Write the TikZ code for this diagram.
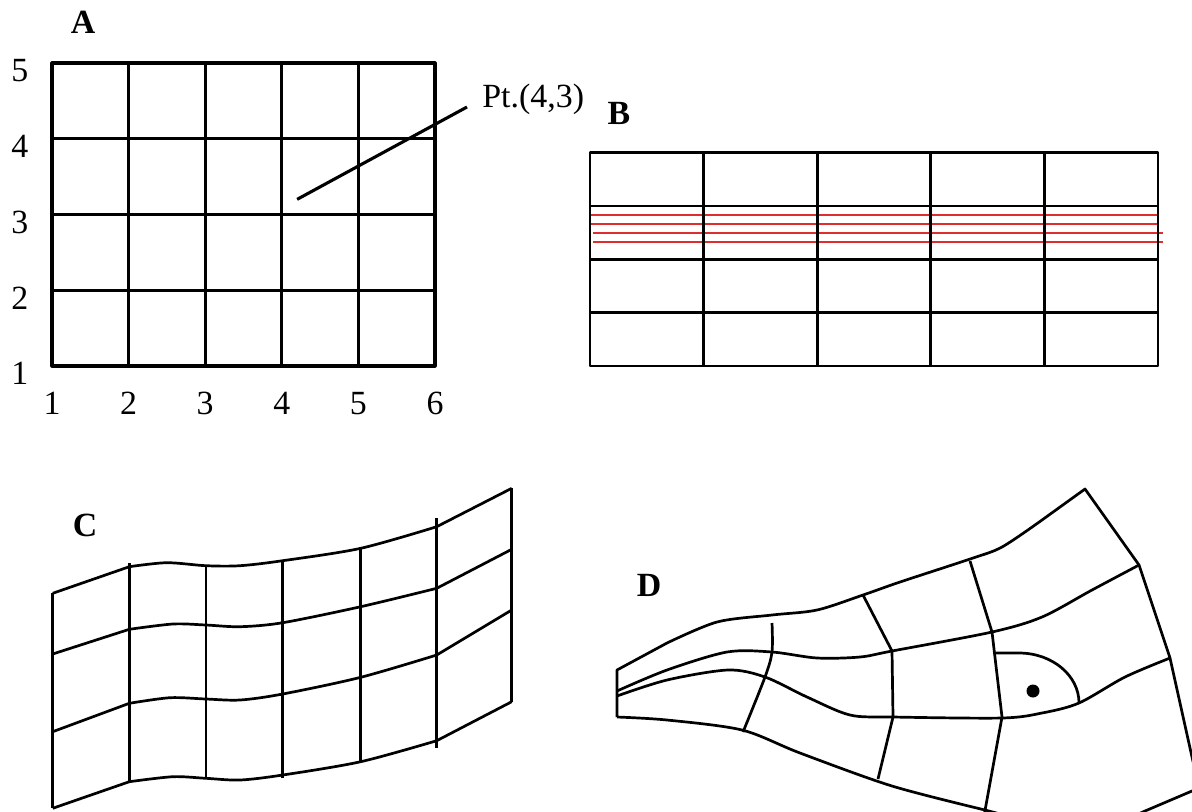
\documentclass[tikz,border=0pt]{standalone}
\usepackage{fontspec}
\setmainfont{Liberation Serif}
\usepackage{xcolor}
\definecolor{bandred}{RGB}{222,45,45}
\usetikzlibrary{calc}

\begin{document}
\begin{tikzpicture}[
  x=0.5bp, y=-0.5bp,
  panel/.style={font=\fontsize{17}{20}\selectfont\bfseries},
  num/.style={font=\fontsize{17}{20}\selectfont},
  mesh/.style={line width=1.35bp, line join=round},
  thickmesh/.style={line width=1.55bp, line join=round},
  band/.style={bandred, line width=1.1bp}
]
  \useasboundingbox (0,0) rectangle (1192,811);
  \clip (0,0) rectangle (1192,811);

  % Panel labels
  \node[panel] (lblA) at (83,22) {A};
  \node[panel] (lblB) at (619,113) {B};
  \node[panel] (lblC) at (85,525) {C};
  \node[panel] (lblD) at (649,585) {D};

  % A: regular grid with axis numbers
  \begin{scope}[shift={(52,366)}, x=38.3bp, y=37.875bp]
    \draw[thickmesh] (0,0) rectangle (5,4);
    \foreach \i in {1,...,4} \draw[thickmesh] (\i,0) -- (\i,4);
    \foreach \j in {1,...,3} \draw[thickmesh] (0,\j) -- (5,\j);
    \foreach \i in {1,...,6} \node[num] (xl\i) at (\i-1,-0.49) {\i};
    \foreach \j in {1,...,5} \node[num] (yl\j) at (-0.42,\j-1.1) {\j};
    \coordinate (pa) at (3.2,2.2);
  \end{scope}
  \node[num, anchor=base west, inner sep=0pt] (ptlbl) at (482,107) {Pt.(4,3)};
  \draw[thickmesh] (pa) -- ([xshift=-7.5bp]ptlbl.base west);

  % B: grid with refined band
  \begin{scope}[shift={(590,366)}, x=56.8bp, y=26.65bp]
    \foreach \k/\s/\e in {1/0/5,2/0/5,3/0.03/5.04,4/0.03/5.04}
      \draw[band] (\s,3-\k/6) -- (\e,3-\k/6);
    \draw[mesh] (0,0) rectangle (5,4);
    \foreach \i in {1,...,4} \draw[mesh] (\i,0) -- (\i,4);
    \foreach \j in {1,...,3} \draw[mesh] (0,\j) -- (5,\j);
  \end{scope}

  % C: warped mesh
  \draw[mesh] (52.7,593.3) -- plot[smooth] coordinates {(129.3,566.7) (166.7,562.7) (206,565.7) (240,565.7) (282.7,560.7) (360.7,548.3) (436.7,526.7)} -- (511.7,488.3);
  \draw[mesh] (52.7,654) -- plot[smooth] coordinates {(129.3,629.3) (173,624) (206,625) (240,626.7) (282.7,622.7) (360.7,606.7) (436.7,588.3)} -- (511.7,549.3);
  \draw[mesh] (52.7,731.7) -- plot[smooth] coordinates {(129.3,703.3) (170,697.7) (206,699) (240,700) (282.7,694) (360.7,677.3) (436.7,655)} -- (511.7,610);
  \draw[mesh] (52.7,808.3) -- plot[smooth] coordinates {(129.3,781.7) (173,776.7) (206,778.3) (240,780) (282.7,775) (360.7,761.7) (436.7,740.7)} -- (511.7,701.7);
  \foreach \x/\ya/\yb in {52.7/593.3/808.3, 129.3/563/782, 206/565/778, 282.7/560/778, 360.7/547/763, 436.7/518/748, 511.7/488.3/701.7}
    \draw[mesh] (\x,\ya) -- (\x,\yb);

  % D: body-fitted mesh
  \draw[mesh] (617,717) -- (617,670) -- plot[smooth] coordinates {(667,643) (717,622) (772,615) (817,610) (863,595) (900,582) (970,559) (1002,547) (1042,520)} -- (1085,489) -- (1139,565) -- (1170,658) -- (1192,757) -- (1199,788);
  \draw[mesh] plot[smooth] coordinates {(617,691) (667,670) (727,652) (772,652) (817,658) (860,657) (892,651) (992,632) (1042,617) (1092,590) (1139,565)};
  \draw[mesh] plot[smooth] coordinates {(617,696) (667,680) (728,670) (765,677) (807,697) (850,715) (893,717) (1002,718) (1042,713) (1079,703) (1125,677) (1170,658)};
  \draw[mesh] plot[smooth] coordinates {(617,717) (667,720) (742,730) (800,753) (892,786) (985,810)} -- (1088,837) -- (1145,811) -- (1199,788);
  \draw[mesh] plot[smooth] coordinates {(772,623) (772,652) (765,677) (743,732)};
  \draw[mesh] (863,595) -- (892,651) -- (893,717) -- (878,779);
  \draw[mesh] (970,561) -- (992,632) -- (1002,717) -- (984,816);
  % recirculation zone
  \draw[mesh] (995,653) -- (1019,653) arc[start angle=270, end angle=360, x radius=60, y radius=50];
  \fill (1033,691) circle[radius=6.5];
\end{tikzpicture}
\end{document}
